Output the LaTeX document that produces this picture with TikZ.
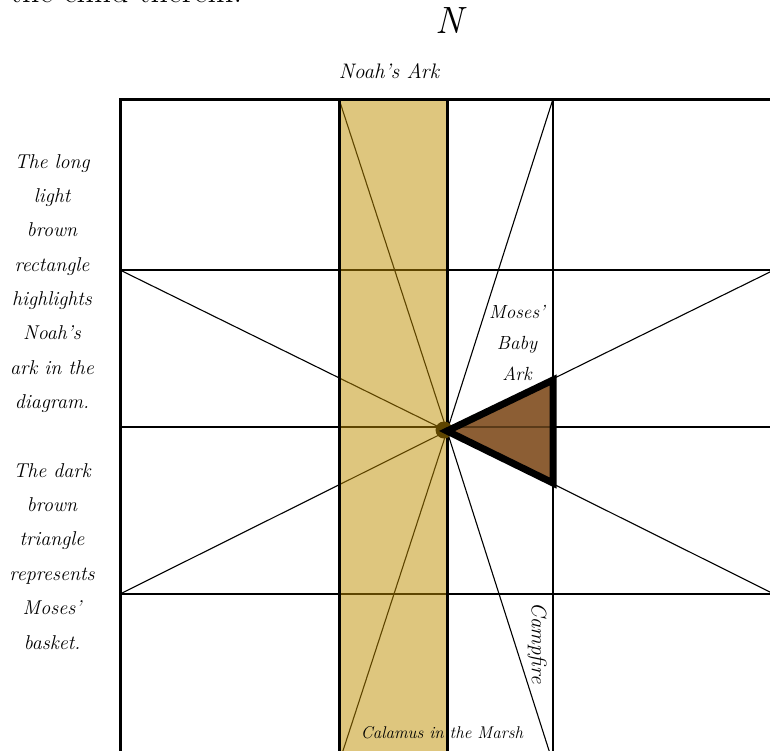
\documentclass[tikz,border=0pt]{standalone}
\definecolor{arkfill}{HTML}{DEC67E}
\definecolor{arkline}{HTML}{5E4500}
\definecolor{basketfill}{HTML}{8C5E34}
\definecolor{basketline}{HTML}{5A3A18}
\definecolor{dotc}{HTML}{5E4500}
\begin{document}
\begin{tikzpicture}[x=1pt,y=-1pt,
  gridline/.style={line width=1.1pt,line cap=butt},
  frameline/.style={line width=3pt},
  it/.style={font=\fontsize{#1}{#1}\selectfont\itshape,inner sep=0pt}]
\useasboundingbox (0,0) rectangle (770,750);
\fill[white] (0,0) rectangle (770,750);
\clip (0,0) rectangle (770,750);
% key points
\coordinate (C) at (447,431);
\coordinate (a1) at (339,99);
\coordinate (a2) at (553,99);
\coordinate (a3) at (120,270);
\coordinate (a4) at (120,594);
\coordinate (a5) at (774,270);
\coordinate (a6) at (774,594);
\coordinate (a7) at (339,763);
\coordinate (a8) at (553,763);
\coordinate (h1l) at (120,270); \coordinate (h1r) at (774,270);
\coordinate (h2l) at (120,427); \coordinate (h2r) at (774,427);
\coordinate (h3l) at (120,594); \coordinate (h3r) at (774,594);
\coordinate (v1t) at (553,99); \coordinate (v1b) at (553,763);
% grid and rays
\draw[gridline] (h1l) -- (h1r) (h2l) -- (h2r) (h3l) -- (h3r) (v1t) -- (v1b);
\foreach \p in {a1,a2,a3,a4,a5,a6,a7,a8} \draw[gridline] (C) -- (\p);
% Noah's ark band
\fill[arkfill] (339,99) rectangle (447,763);
\begin{scope}
  \clip (339,99) rectangle (447,763);
  \draw[gridline,arkline] (h1l) -- (h1r) (h2l) -- (h2r) (h3l) -- (h3r);
  \foreach \p in {a1,a3,a4,a7} \draw[gridline,arkline] (C) -- (\p);
\end{scope}
\draw[frameline] (339,99) rectangle (447,763);
% outer frame
\draw[frameline] (120,99) rectangle (774,763);
% centre dot
\fill[dotc] (444,430) circle (8.5);
% Moses' basket
\coordinate (t1) at (553,380);
\coordinate (t2) at (553,483);
\fill[basketfill] (C) -- (t1) -- (t2) -- cycle;
\begin{scope}
  \clip (C) -- (t1) -- (t2) -- cycle;
  \draw[gridline,basketline] (h2l) -- (h2r);
\end{scope}
\draw[line width=7pt,line join=miter] (C) -- (t1) -- (t2) -- cycle;
% texts
\node[font=\fontsize{34}{34}\selectfont,inner sep=0pt,anchor=base west] (top) at (10,2.5) {the child therein.};
\node[it=38,anchor=base] (north) at (449,33) {N};
\node[it=21,anchor=base] (noah) at (389,78) {Noah’s Ark};
\foreach \t [count=\i from 0] in {The long,light,brown,rectangle,highlights,Noah’s,ark in the,diagram.,,The dark,brown,triangle,represents,Moses’,basket.}
  \node[it=20,anchor=base] (left\i) at (52,168+\i*34.36) {\t};
\node[it=19,anchor=base] (moses1) at (517,318) {Moses’};
\node[it=19,anchor=base] (moses2) at (517,349) {Baby};
\node[it=19,anchor=base] (moses3) at (517,380) {Ark};
\node[it=21,rotate=-90] (camp) at (537,643) {Campfire};
\node[it=17,anchor=base] (calamus) at (442,738) {Calamus in the Marsh};
\end{tikzpicture}
\end{document}
